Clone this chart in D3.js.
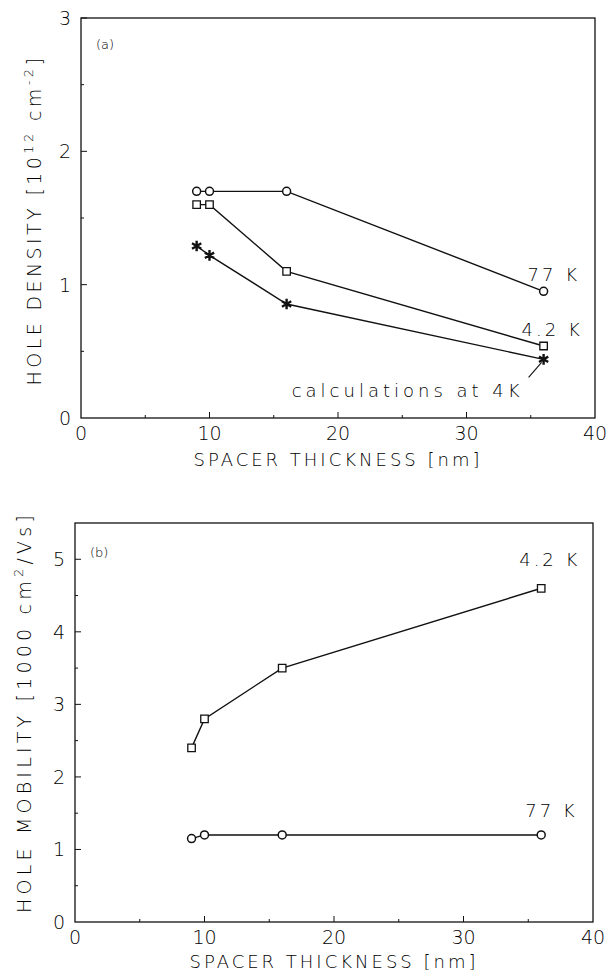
<!DOCTYPE html>
<html lang="en">
<head>
<meta charset="UTF-8">
<title>Spacer thickness</title>
<style>
  body { margin: 0; background: #fff; }
  text { font-family: "DejaVu Sans", "Liberation Sans", sans-serif; fill: #000; }
</style>
</head>
<body>
<div id="chart"></div>
<script src="https://d3js.org/d3.v7.min.js"></script>
<script>

// spacer thickness [nm] (same for every series)
const spacer = [9, 10, 16, 36];

// (a) hole density [10^12 cm^-2]
const density77K = [1.7, 1.7, 1.7, 0.95];
const density42K = [1.6, 1.6, 1.1, 0.54];
const densityCalc = [1.29, 1.22, 0.855, 0.44];

// (b) hole mobility [1000 cm^2/Vs]
const mobility42K = [2.4, 2.8, 3.5, 4.6];
const mobility77K = [1.15, 1.2, 1.2, 1.2];

const xTicks = [0, 10, 20, 30, 40];
const yTicksA = [0, 1, 2, 3];
const yTicksB = [0, 1, 2, 3, 4, 5];

const svg = d3.select("#chart")
  .append("svg")
  .attr("width", 616)
  .attr("height", 977);

const ink = "#111";

function drawPanel(p) {
  const x = d3.scaleLinear().domain([0, 40]).range([p.left, p.right]);
  const y = d3.scaleLinear().domain([0, p.yMax]).range([p.bottom, p.top]);
  const g = svg.append("g");

  // frame
  g.append("rect")
    .attr("x", p.left).attr("y", p.top)
    .attr("width", p.right - p.left).attr("height", p.bottom - p.top)
    .attr("fill", "none").attr("stroke", ink).attr("stroke-width", 1.3);

  // inward ticks, major and minor
  const xMinor = d3.range(5, 40, 10);
  g.selectAll(".xt").data(xTicks.slice(1, -1)).join("line")
    .attr("x1", d => x(d)).attr("x2", d => x(d))
    .attr("y1", p.bottom).attr("y2", p.bottom - 6)
    .attr("stroke", ink).attr("stroke-width", 1);
  g.selectAll(".xm").data(xMinor).join("line")
    .attr("x1", d => x(d)).attr("x2", d => x(d))
    .attr("y1", p.bottom).attr("y2", p.bottom - 3)
    .attr("stroke", ink).attr("stroke-width", 1);
  const yMinor = d3.range(0.5, p.yMax, 1);
  g.selectAll(".yt").data(p.yTicks.slice(1)).join("line")
    .attr("x1", p.left).attr("x2", p.left + 6)
    .attr("y1", d => y(d)).attr("y2", d => y(d))
    .attr("stroke", ink).attr("stroke-width", 1);
  g.selectAll(".ym").data(yMinor).join("line")
    .attr("x1", p.left).attr("x2", p.left + 3)
    .attr("y1", d => y(d)).attr("y2", d => y(d))
    .attr("stroke", ink).attr("stroke-width", 1);

  // tick labels
  g.selectAll(".xl").data(xTicks).join("text")
    .attr("x", d => x(d))
    .attr("y", p.bottom + 22)
    .attr("text-anchor", "middle")
    .style("font-size", "19px").style("font-weight", 300)
    .text(d => d);
  g.selectAll(".yl").data(p.yTicks).join("text")
    .attr("x", p.left - 10)
    .attr("y", d => y(d) + 7)
    .attr("text-anchor", "end")
    .style("font-size", "19px").style("font-weight", 300)
    .text(d => d);

  // axis titles
  g.append("text")
    .attr("x", (p.left + p.right) / 2)
    .attr("y", p.bottom + p.titleDy)
    .attr("text-anchor", "middle")
    .style("font-size", "18px").style("font-weight", 300).style("letter-spacing", "3px")
    .text("SPACER THICKNESS [nm]");

  const yt = g.append("text")
    .attr("transform", `translate(${p.yLabelX},${p.yLabelY}) rotate(-90)`)
    .attr("text-anchor", "middle")
    .style("font-size", "19px").style("font-weight", 300)
    .style("letter-spacing", p.yLabelSpacing + "px");
  p.yTitle.forEach(part => {
    const t = yt.append("tspan").text(part.t);
    if (part.sup) t.attr("dy", -8).style("font-size", "13px");
    if (part.down) t.attr("dy", 8);
  });

  // panel letter
  g.append("text")
    .attr("x", p.left + 15).attr("y", p.top + p.letterDy)
    .style("font-size", "13px").style("font-weight", 300)
    .text(p.letter);

  const line = d3.line().x(d => x(d[0])).y(d => y(d[1]));

  p.series.forEach(s => {
    const pts = spacer.map((v, i) => [v, s.values[i]]);
    g.append("path").datum(pts)
      .attr("d", line)
      .attr("fill", "none").attr("stroke", ink).attr("stroke-width", 1.4);

    const m = g.selectAll(null).data(pts).join("path")
      .attr("transform", d => `translate(${x(d[0])},${y(d[1])})`)
      .attr("stroke", ink);
    if (s.marker === "circle") {
      m.attr("d", d3.symbol(d3.symbolCircle, 50)).attr("fill", "#fff").attr("stroke-width", 1.5);
    } else if (s.marker === "square") {
      m.attr("d", d3.symbol(d3.symbolSquare, 56)).attr("fill", "#fff").attr("stroke-width", 1.3);
    } else {
      m.attr("d", d3.symbol(d3.symbolAsterisk, 80)).attr("fill", "none").attr("stroke-width", 2.4);
    }

    if (s.label) {
      const last = pts[pts.length - 1];
      g.append("text")
        .attr("x", x(last[0]) + s.dx).attr("y", y(last[1]) + s.dy)
        .attr("text-anchor", s.anchor || "start")
        .style("font-size", "18px").style("font-weight", 300)
        .style("letter-spacing", (s.spacing || 3) + "px")
        .text(s.label);
      if (s.leader) {
        g.append("line")
          .attr("x1", x(last[0]) - 2).attr("y1", y(last[1]) + 3)
          .attr("x2", x(last[0]) - 15).attr("y2", y(last[1]) + 18)
          .attr("stroke", ink).attr("stroke-width", 1.1);
      }
    }
  });
}

drawPanel({
  left: 81, right: 595, top: 18, bottom: 418, yMax: 3,
  yTicks: yTicksA, letter: "(a)", letterDy: 31, titleDy: 48,
  yLabelX: 41, yLabelY: 220, yLabelSpacing: 3.4,
  yTitle: [{ t: "HOLE DENSITY [10" }, { t: "12", sup: true }, { t: " cm", down: true },
           { t: "-2", sup: true }, { t: "]", down: true }],
  series: [
    { values: density77K, marker: "circle", label: "77 K", dx: -16, dy: -10 },
    { values: density42K, marker: "square", label: "4.2 K", dx: -22, dy: -10 },
    { values: densityCalc, marker: "star", label: "calculations at 4K", dx: -20, dy: 38,
      anchor: "end", leader: true, spacing: 4 }
  ]
});

drawPanel({
  left: 75, right: 593, top: 523, bottom: 922, yMax: 5.5,
  yTicks: yTicksB, letter: "(b)", letterDy: 34, titleDy: 46,
  yLabelX: 31, yLabelY: 712, yLabelSpacing: 4.2,
  yTitle: [{ t: "HOLE MOBILITY [1000 cm" }, { t: "2", sup: true }, { t: "/Vs]", down: true }],
  series: [
    { values: mobility42K, marker: "square", label: "4.2 K", dx: -22, dy: -22 },
    { values: mobility77K, marker: "circle", label: "77 K", dx: -16, dy: -18 }
  ]
});

</script>
</body>
</html>
